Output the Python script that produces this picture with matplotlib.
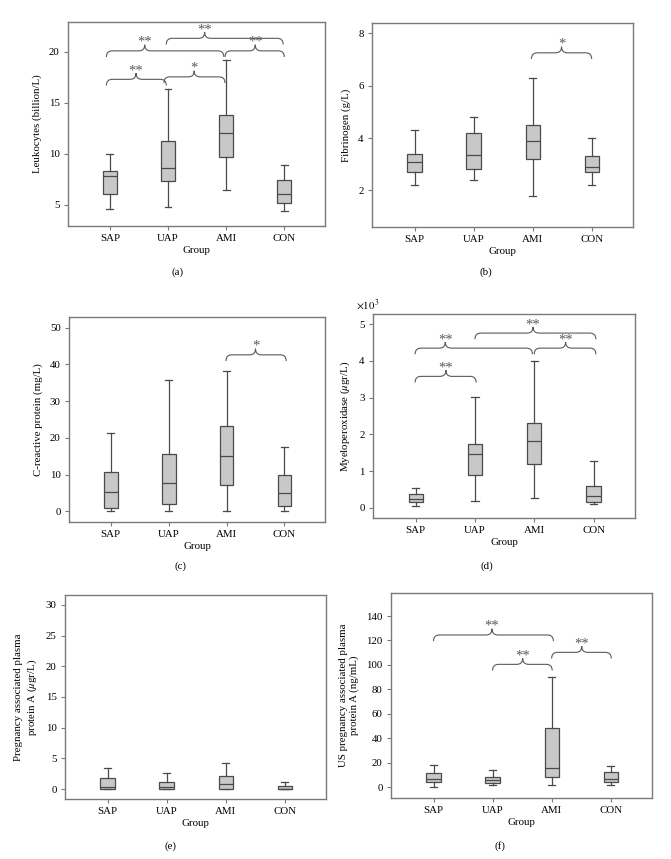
import numpy as np
import matplotlib
matplotlib.use("Agg")
import matplotlib.pyplot as plt
from matplotlib.path import Path
from matplotlib.patches import PathPatch

plt.rcParams['font.family'] = ['Liberation Serif', 'DejaVu Serif']
plt.rcParams['mathtext.fontset'] = 'stix'

groups = ["SAP", "UAP", "AMI", "CON"]

# five-number summaries: whisker low, Q1, median, Q3, whisker high
leuko_lo = [4.6, 4.8, 6.45, 4.4]
leuko_q1 = [6.0, 7.3, 9.7, 5.2]
leuko_med = [7.8, 8.6, 12.05, 6.05]
leuko_q3 = [8.3, 11.2, 13.8, 7.4]
leuko_hi = [10.0, 16.3, 19.2, 8.9]

fib_lo = [2.2, 2.4, 1.8, 2.2]
fib_q1 = [2.7, 2.8, 3.2, 2.7]
fib_med = [3.1, 3.35, 3.9, 2.9]
fib_q3 = [3.4, 4.2, 4.5, 3.3]
fib_hi = [4.3, 4.8, 6.3, 4.0]

crp_lo = [0.0, 0.0, 0.0, 0.0]
crp_q1 = [0.8, 2.1, 7.3, 1.4]
crp_med = [5.3, 7.6, 15.0, 4.9]
crp_q3 = [10.8, 15.7, 23.2, 9.9]
crp_hi = [21.2, 35.8, 38.2, 17.4]

mpo_lo = [0.06, 0.19, 0.26, 0.10]
mpo_q1 = [0.15, 0.88, 1.19, 0.15]
mpo_med = [0.23, 1.46, 1.83, 0.32]
mpo_q3 = [0.37, 1.75, 2.32, 0.60]
mpo_hi = [0.53, 3.01, 3.99, 1.27]

papp_lo = [0.0, 0.0, 0.0, 0.0]
papp_q1 = [0.0, 0.0, 0.0, 0.0]
papp_med = [0.31, 0.41, 0.8, 0.05]
papp_q3 = [1.78, 1.22, 2.15, 0.55]
papp_hi = [3.5, 2.6, 4.2, 1.1]

uspapp_lo = [0.0, 1.9, 1.6, 1.9]
uspapp_q1 = [4.4, 3.8, 8.3, 4.1]
uspapp_med = [6.6, 6.0, 16.1, 6.6]
uspapp_q3 = [11.5, 8.7, 48.3, 12.8]
uspapp_hi = [18.0, 14.2, 90.4, 17.4]

# significance braces: (left, right, tip, level, mark)
sig_a = [(0.94, 1.97, 1.45, 17.28, "**"), (1.93, 2.98, 2.45, 17.52, "*"),
         (0.94, 2.96, 1.60, 20.07, "**"), (2.98, 4.0, 3.50, 20.07, "**"),
         (1.97, 3.98, 2.63, 21.3, "**")]
sig_b = [(2.98, 4.0, 3.49, 7.26, "*")]
sig_c = [(2.99, 4.03, 3.50, 42.6, "*")]
sig_d = [(0.99, 2.02, 1.51, 3.58, "**"), (0.99, 2.97, 1.50, 4.35, "**"),
         (3.0, 4.04, 3.53, 4.35, "**"), (2.0, 4.04, 2.98, 4.76, "**")]
sig_e = []
sig_f = [(1.0, 3.03, 1.99, 124.5, "**"), (2.0, 3.01, 2.51, 100.5, "**"),
         (3.0, 4.01, 3.51, 110.3, "**")]

W, H = 671, 859
fig = plt.figure(figsize=(W / 100, H / 100), dpi=100)

edge = "#4a4a4a"
spine_c = "#7a7a7a"


def brace(ax, x0, x1, xt, y, h, w, mark):
    verts = [(x0, y - h), (x0, y), (x0 + w, y), (xt - w, y), (xt, y), (xt, y + h),
             (xt, y), (xt + w, y), (x1 - w, y), (x1, y), (x1, y - h)]
    codes = [Path.MOVETO, Path.CURVE3, Path.CURVE3, Path.LINETO, Path.CURVE3, Path.CURVE3,
             Path.CURVE3, Path.CURVE3, Path.LINETO, Path.CURVE3, Path.CURVE3]
    ax.add_patch(PathPatch(Path(verts, codes), fill=False, lw=0.8, edgecolor="#5a5a5a"))
    ax.annotate(mark, xy=(xt, y + h), xytext=(0, -3), textcoords="offset points",
                ha="center", va="bottom", fontsize=10.5, color="#5a5a5a")


def panel(rect_px, lo, q1, med, q3, hi, ylim, yticks, ylabel, sig, caption, cap_xy):
    l, r, t, b = rect_px
    ax = fig.add_axes([l / W, 1 - b / H, (r - l) / W, (b - t) / H])
    stats = []
    for i, g in enumerate(groups):
        stats.append(dict(label=g, whislo=lo[i], q1=q1[i], med=med[i], q3=q3[i], whishi=hi[i], fliers=[]))
    ax.bxp(stats, positions=[1, 2, 3, 4], widths=0.24, patch_artist=True, showfliers=False,
           boxprops=dict(facecolor="#c8c8c8", edgecolor=edge, lw=0.9),
           medianprops=dict(color=edge, lw=0.9),
           whiskerprops=dict(color=edge, lw=0.9),
           capprops=dict(color=edge, lw=0.9), capwidths=0.12)
    ax.set_xlim(0.28, 4.7)
    ax.set_ylim(*ylim)
    ax.set_yticks(yticks)
    ax.set_xticks([1, 2, 3, 4])
    ax.set_xticklabels(groups)
    for s in ax.spines.values():
        s.set_color(spine_c)
        s.set_linewidth(1.0)
    ax.tick_params(direction="out", length=3, width=0.8, color=spine_c, labelsize=7.8, pad=3)
    ax.set_xlabel("Group", fontsize=7.8, labelpad=2)
    ax.set_ylabel(ylabel, fontsize=7.8, labelpad=5)
    yr = ylim[1] - ylim[0]
    for x0, x1, xt, y, mark in sig:
        brace(ax, x0, x1, xt, y, 0.03 * yr, 0.1, mark)
    fig.text(cap_xy[0] / W, 1 - cap_xy[1] / H, caption, ha="center", va="center", fontsize=7.8)
    return ax


panel((68, 325, 22, 226), leuko_lo, leuko_q1, leuko_med, leuko_q3, leuko_hi,
      (2.9, 22.9), [5, 10, 15, 20], "Leukocytes (billion/L)", sig_a, "(a)", (178, 272))
panel((372, 633, 23, 227), fib_lo, fib_q1, fib_med, fib_q3, fib_hi,
      (0.6, 8.4), [2, 4, 6, 8], "Fibrinogen (g/L)", sig_b, "(b)", (486, 272))
panel((69, 325, 317, 522), crp_lo, crp_q1, crp_med, crp_q3, crp_hi,
      (-2.9, 52.9), [0, 10, 20, 30, 40, 50], "C-reactive protein (mg/L)", sig_c, "(c)", (180, 566))
ax_d = panel((373, 635, 314, 518), mpo_lo, mpo_q1, mpo_med, mpo_q3, mpo_hi,
             (-0.28, 5.28), [0, 1, 2, 3, 4, 5], r"Myeloperoxidase ($\mu$gr/L)", sig_d, "(d)", (487, 566))
ax_d.text(-0.02, 1.045, r"$\times10^3$", transform=ax_d.transAxes, ha="center", va="center",
          fontsize=7.8)
panel((65, 326, 595, 799), papp_lo, papp_q1, papp_med, papp_q3, papp_hi,
      (-1.6, 31.6), [0, 5, 10, 15, 20, 25, 30],
      "Pregnancy associated plasma\n" + r"protein A ($\mu$gr/L)", sig_e, "(e)", (170, 846))
panel((391, 652, 593, 798), uspapp_lo, uspapp_q1, uspapp_med, uspapp_q3, uspapp_hi,
      (-8.7, 158.8), [0, 20, 40, 60, 80, 100, 120, 140],
      "US pregnancy associated plasma\nprotein A (ng/mL)", sig_f, "(f)", (500, 846))

fig.savefig("out.png", dpi=100)
